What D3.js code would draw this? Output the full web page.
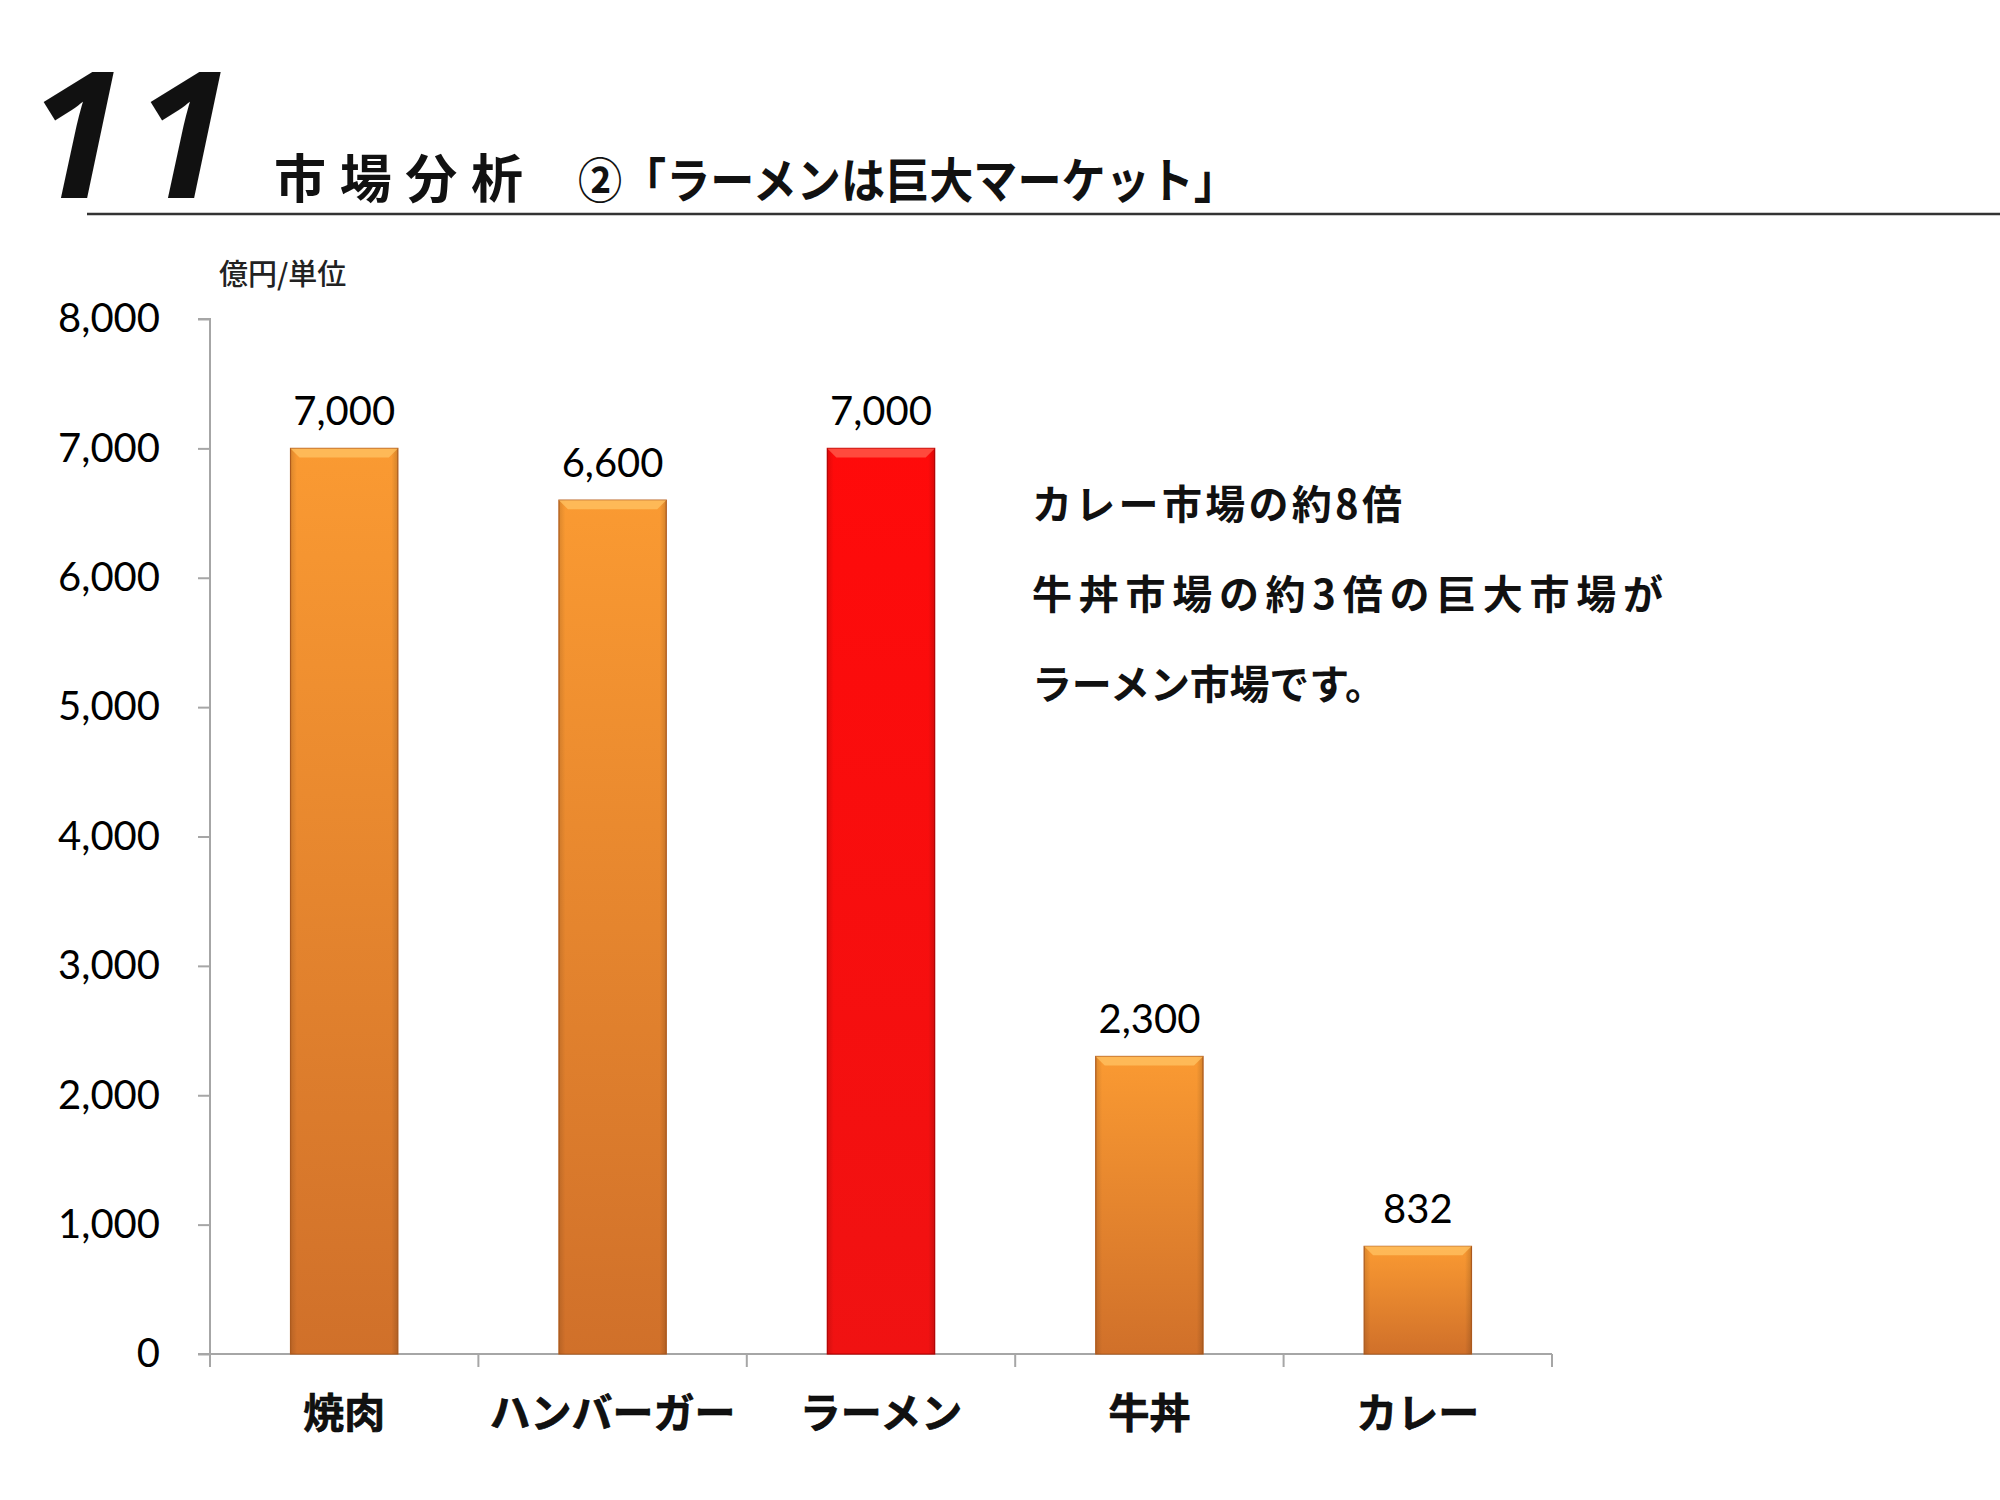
<!DOCTYPE html>
<html>
<head>
<meta charset="utf-8">
<script src="https://cdn.jsdelivr.net/npm/d3@7"></script>
<style>
  html, body { margin: 0; padding: 0; background: #fff; }
  svg { display: block; }
</style>
</head>
<body>
<svg id="chart" width="2000" height="1500"></svg>
<script>
// ---- data ----
const categories = ["焼肉", "ハンバーガー", "ラーメン", "牛丼", "カレー"];
const values = [7000, 6600, 7000, 2300, 832];
const highlight = ["ラーメン"];
const yTicks = [0, 1000, 2000, 3000, 4000, 5000, 6000, 7000, 8000];
const pageDigits = ["1", "1"];
const titleMain = "市場分析";
const titleSub = "②「ラーメンは巨大マーケット」";
const unitLabel = "億円/単位";
const noteLines = ["カレー市場の約8倍", "牛丼市場の約3倍の巨大市場が", "ラーメン市場です。"];

(function () {
const svg = d3.select("#chart");
const defs = svg.append("defs");

const pLeft = 210, pRight = 1552, pTop = 319, pBottom = 1354;

const x = d3.scaleBand().domain(categories).range([pLeft, pRight]).paddingInner(0.6).paddingOuter(0.3);
const y = d3.scaleLinear().domain([0, 8000]).range([pBottom, pTop]);

// gradients
const gO = defs.append("linearGradient").attr("id", "gOrange").attr("x1", 0).attr("y1", 0).attr("x2", 0).attr("y2", 1);
gO.append("stop").attr("offset", "0%").attr("stop-color", "#FA9A32");
gO.append("stop").attr("offset", "100%").attr("stop-color", "#D0702A");
const gR = defs.append("linearGradient").attr("id", "gRed").attr("x1", 0).attr("y1", 0).attr("x2", 0).attr("y2", 1);
gR.append("stop").attr("offset", "0%").attr("stop-color", "#FF0A0A");
gR.append("stop").attr("offset", "100%").attr("stop-color", "#F01212");
const gS = defs.append("linearGradient").attr("id", "gSide").attr("x1", 0).attr("y1", 0).attr("x2", 1).attr("y2", 0);
gS.append("stop").attr("offset", "0%").attr("stop-color", "#000").attr("stop-opacity", 0.12);
gS.append("stop").attr("offset", "6%").attr("stop-color", "#000").attr("stop-opacity", 0);
gS.append("stop").attr("offset", "94%").attr("stop-color", "#000").attr("stop-opacity", 0);
gS.append("stop").attr("offset", "100%").attr("stop-color", "#000").attr("stop-opacity", 0.15);

// page number
const digitX = [28, 135];
svg.append("g").selectAll("text").data(pageDigits).join("text")
  .attr("x", (d, i) => digitX[i]).attr("y", 198)
  .attr("font-family", "'Open Sans', Roboto, sans-serif")
  .attr("font-style", "italic").attr("font-weight", 700).attr("font-size", 176)
  .attr("fill", "#111")
  .text(d => d);

svg.append("text").attr("x", 274).attr("y", 198)
  .attr("font-family", "'Noto Sans CJK JP', sans-serif").attr("font-weight", 700)
  .attr("font-size", 52).attr("textLength", 249).attr("lengthAdjust", "spacing")
  .attr("fill", "#111").text(titleMain);
svg.append("text").attr("x", 578).attr("y", 198)
  .attr("font-family", "'Noto Sans CJK JP', sans-serif").attr("font-weight", 700)
  .attr("font-size", 48).attr("textLength", 660).attr("lengthAdjust", "spacingAndGlyphs")
  .attr("fill", "#111").text(titleSub);

svg.append("line").attr("x1", 87).attr("x2", 2000).attr("y1", 214).attr("y2", 214)
  .attr("stroke", "#333").attr("stroke-width", 2.5);

// unit label
svg.append("text").attr("x", 219).attr("y", 285)
  .attr("font-family", "'Noto Sans CJK JP', sans-serif").attr("font-weight", 500)
  .attr("font-size", 29).attr("fill", "#222").text(unitLabel);

// axes
const yAxis = d3.axisLeft(y).tickValues(yTicks).tickFormat(d3.format(",")).tickSize(12).tickPadding(38);
const gy = svg.append("g").attr("transform", `translate(${pLeft},0)`).call(yAxis);
gy.select(".domain").attr("stroke", "#A6A6A6").attr("stroke-width", 2).attr("d", `M-12,${pTop}H0V${pBottom}`);
gy.selectAll(".tick line").attr("stroke", "#A6A6A6").attr("stroke-width", 2);
gy.selectAll(".tick text").attr("font-family", "Lato, 'Open Sans', sans-serif")
  .attr("font-size", 40).attr("fill", "#000");

// x axis line and boundary ticks
const gx = svg.append("g");
gx.append("line").attr("x1", pLeft - 12).attr("x2", pRight).attr("y1", pBottom).attr("y2", pBottom)
  .attr("stroke", "#A6A6A6").attr("stroke-width", 2);
gx.selectAll("line.b").data(d3.range(categories.length + 1)).join("line").attr("class", "b")
  .attr("x1", i => pLeft + (pRight - pLeft) * i / categories.length)
  .attr("x2", i => pLeft + (pRight - pLeft) * i / categories.length)
  .attr("y1", pBottom).attr("y2", pBottom + 13)
  .attr("stroke", "#A6A6A6").attr("stroke-width", 2);

// bars
const data = categories.map((c, i) => ({ c, v: values[i] }));
const bars = svg.append("g").selectAll("g").data(data).join("g");
bars.append("rect")
  .attr("x", d => x(d.c)).attr("y", d => y(d.v))
  .attr("width", x.bandwidth()).attr("height", d => y(0) - y(d.v))
  .attr("fill", d => highlight.includes(d.c) ? "url(#gRed)" : "url(#gOrange)")
  .attr("stroke", d => highlight.includes(d.c) ? "#C00000" : "#B86020").attr("stroke-width", 1.2);
bars.append("rect")
  .attr("x", d => x(d.c)).attr("y", d => y(d.v))
  .attr("width", x.bandwidth()).attr("height", d => y(0) - y(d.v))
  .attr("fill", "url(#gSide)");
// bevel highlight at top
bars.append("path")
  .attr("d", d => {
    const x0 = x(d.c), x1 = x0 + x.bandwidth(), t = y(d.v), b = 9;
    return `M${x0},${t}H${x1}L${x1 - b},${t + b}H${x0 + b}Z`;
  })
  .attr("fill", d => highlight.includes(d.c) ? "#FF5A4A" : "#FFC060").attr("opacity", 0.8);

// value labels
bars.append("text")
  .attr("x", d => x(d.c) + x.bandwidth() / 2).attr("y", d => y(d.v) - 23)
  .attr("text-anchor", "middle")
  .attr("font-family", "Lato, 'Open Sans', sans-serif").attr("font-size", 40).attr("fill", "#000")
  .text(d => d3.format(",")(d.v));

// category labels
svg.append("g").selectAll("text").data(categories).join("text")
  .attr("x", d => x(d) + x.bandwidth() / 2).attr("y", 1428)
  .attr("text-anchor", "middle")
  .attr("font-family", "'Noto Sans CJK JP', sans-serif").attr("font-weight", 700)
  .attr("font-size", 41).attr("fill", "#111")
  .attr("stroke", "#000").attr("stroke-width", 0.6)
  .text(d => d);

// annotation
const noteLen = [370, 631, 353];
const noteY = [519, 609, 699];
svg.append("g").selectAll("text").data(noteLines).join("text")
  .attr("x", 1032).attr("y", (d, i) => noteY[i])
  .attr("font-family", "'Noto Sans CJK JP', sans-serif").attr("font-weight", 700)
  .attr("font-size", 40)
  .attr("textLength", (d, i) => noteLen[i]).attr("lengthAdjust", "spacing")
  .attr("fill", "#111").text(d => d);
})();
</script>
</body>
</html>
